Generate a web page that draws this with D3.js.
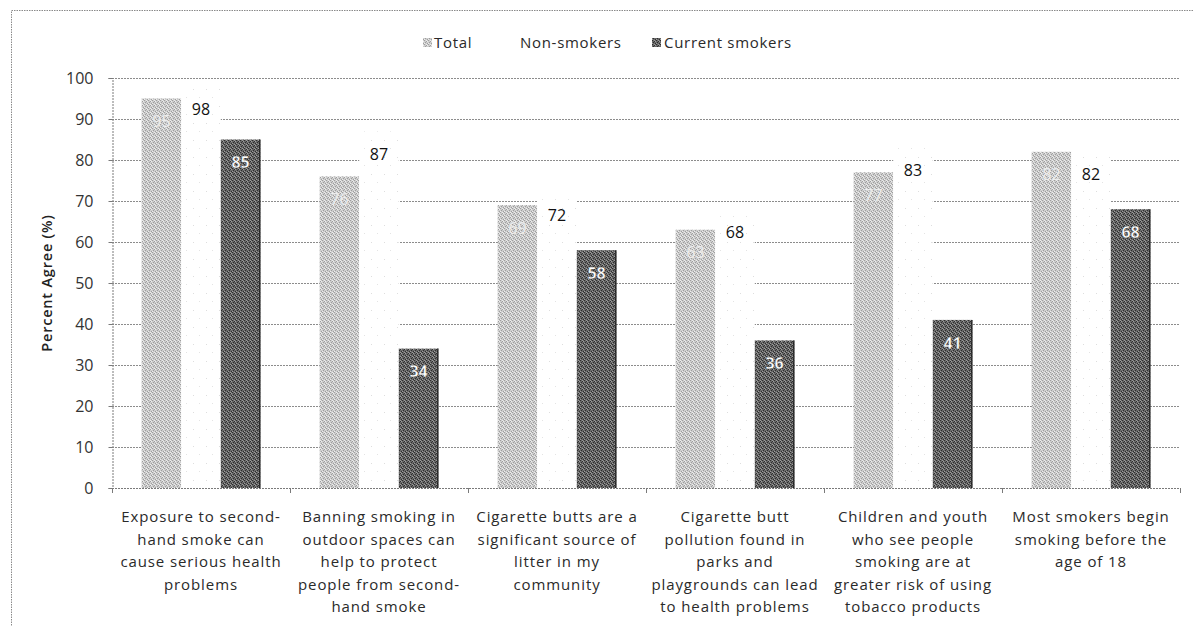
<!DOCTYPE html>
<html>
<head>
<meta charset="utf-8">
<script src="https://cdn.jsdelivr.net/npm/d3@7/dist/d3.min.js"></script>
<style>
  html, body { margin: 0; padding: 0; background: #fff; }
  svg { display: block; }
  text { font-family: "Open Sans", Lato, sans-serif; }
</style>
</head>
<body>
<svg id="chart" width="1193" height="626"></svg>
<script>
// Survey statements (line breaks mark the wrapped label lines)
const categories = [
  "Exposure to second-\nhand smoke  can\ncause serious health\nproblems",
  "Banning smoking in\noutdoor spaces can\nhelp to protect\npeople from second-\nhand smoke",
  "Cigarette butts are a\nsignificant source of\nlitter in my\ncommunity",
  "Cigarette butt\npollution found in\nparks and\nplaygrounds can lead\nto health problems",
  "Children and youth\nwho see people\nsmoking are at\ngreater risk of using\ntobacco products",
  "Most smokers begin\nsmoking before the\nage of 18"
];
const seriesNames = ["Total", "Non-smokers", "Current smokers"];
const totalValues = [95, 76, 69, 63, 77, 82];
const nonSmokerValues = [98, 87, 72, 68, 83, 82];
const currentSmokerValues = [85, 34, 58, 36, 41, 68];
const yTicks = [0, 10, 20, 30, 40, 50, 60, 70, 80, 90, 100];
const yTitle = "Percent Agree (%)";

const svg = d3.select("#chart");
const margin = { left: 112, right: 1180, top: 78, bottom: 488 };
const FONT = "'Open Sans', Lato, sans-serif";

// Fill textures
const defs = svg.append("defs");
function texture(id, base, dark, light) {
  const p = defs.append("pattern").attr("id", id)
    .attr("patternUnits", "userSpaceOnUse").attr("width", 4).attr("height", 4);
  p.append("rect").attr("width", 4).attr("height", 4).attr("fill", base);
  [[0,0],[2,1],[1,2],[3,3]].forEach(([x,y]) =>
    p.append("rect").attr("x", x).attr("y", y).attr("width", 1).attr("height", 1).attr("fill", dark));
  [[2,0],[0,3],[3,1]].forEach(([x,y]) =>
    p.append("rect").attr("x", x).attr("y", y).attr("width", 1).attr("height", 1).attr("fill", light));
}
texture("texTotal", "#cdcdcd", "#9e9e9e", "#ececec");
texture("texCurrent", "#686868", "#2e2e2e", "#9c9c9c");
(function () {
  const p = defs.append("pattern").attr("id", "texNon")
    .attr("patternUnits", "userSpaceOnUse").attr("width", 13).attr("height", 17);
  p.append("rect").attr("width", 13).attr("height", 17).attr("fill", "#ffffff");
  p.append("rect").attr("x", 3).attr("y", 4).attr("width", 1).attr("height", 1).attr("fill", "#dedede");
  p.append("rect").attr("x", 9).attr("y", 12).attr("width", 1).attr("height", 1).attr("fill", "#e4e4e4");
})();

const fills = ["url(#texTotal)", "url(#texNon)", "url(#texCurrent)"];
const seriesValues = [totalValues, nonSmokerValues, currentSmokerValues];

// Outer chart border
svg.append("rect")
  .attr("x", 11.5).attr("y", 10.5).attr("width", 1250).attr("height", 700)
  .attr("fill", "none").attr("stroke", "#8a8a8a").attr("stroke-dasharray", "1.5,1");

const x0 = d3.scaleBand().domain(d3.range(categories.length))
  .range([margin.left, margin.right]).paddingInner(0).paddingOuter(0);
const bw = x0.bandwidth() / 4.5;
const x1 = d3.scaleBand().domain(d3.range(3))
  .range([0.75 * bw, 3.75 * bw]).padding(0);
const y = d3.scaleLinear().domain([0, 100]).range([margin.bottom, margin.top]);

// Gridlines
svg.append("g")
  .selectAll("line").data(yTicks.filter(d => d > 0)).join("line")
  .attr("x1", margin.left).attr("x2", margin.right)
  .attr("y1", d => Math.round(y(d)) + 0.5).attr("y2", d => Math.round(y(d)) + 0.5)
  .attr("stroke", "#8c8c8c").attr("stroke-dasharray", "2,1").attr("stroke-width", 1);

// Y axis
const yAxis = svg.append("g")
  .attr("transform", `translate(${margin.left + 0.5},0)`)
  .call(d3.axisLeft(y).tickValues(yTicks).tickSize(4).tickPadding(15));
yAxis.select(".domain").attr("stroke", "#7a7a7a").attr("stroke-dasharray", "2,1");
yAxis.selectAll(".tick line").attr("stroke", "#7a7a7a");
yAxis.selectAll(".tick text")
  .attr("font-family", FONT)
  .attr("font-size", 16).attr("fill", "#333");

// Bars
const groups = svg.append("g").selectAll("g").data(categories).join("g")
  .attr("transform", (d, i) => `translate(${x0(i)},0)`);

seriesValues.forEach((vals, s) => {
  groups.append("rect")
    .attr("x", x1(s)).attr("width", x1.bandwidth())
    .attr("y", (d, i) => y(vals[i]))
    .attr("height", (d, i) => y(0) - y(vals[i]))
    .attr("fill", fills[s]);
});
// dark right edge on current smoker bars
groups.append("line")
  .attr("x1", x1(2) + x1.bandwidth() - 0.5).attr("x2", x1(2) + x1.bandwidth() - 0.5)
  .attr("y1", (d, i) => y(currentSmokerValues[i])).attr("y2", y(0))
  .attr("stroke", "#1a1a1a").attr("stroke-width", 1.2);

// X axis
const xAxis = svg.append("g");
xAxis.append("line")
  .attr("x1", margin.left).attr("x2", margin.right)
  .attr("y1", margin.bottom + 0.5).attr("y2", margin.bottom + 0.5)
  .attr("stroke", "#7a7a7a").attr("stroke-dasharray", "2,1");
xAxis.selectAll("line.tick").data(d3.range(categories.length + 1)).join("line")
  .attr("class", "tick")
  .attr("x1", i => Math.round(margin.left + i * x0.step()) + 0.5)
  .attr("x2", i => Math.round(margin.left + i * x0.step()) + 0.5)
  .attr("y1", margin.bottom).attr("y2", margin.bottom + 5)
  .attr("stroke", "#7a7a7a");

// Category labels
groups.append("text")
  .attr("text-anchor", "middle")
  .attr("font-size", 15).attr("letter-spacing", 0.9).attr("fill", "#2a2a2a")
  .each(function (d) {
    const t = d3.select(this);
    d.split("\n").forEach((line, k) => {
      t.append("tspan").attr("x", x0.bandwidth() / 2)
        .attr("y", 522 + k * 22.5).text(line);
    });
  });

// Value labels
const labelStyles = [
  { fill: "#ececec", weight: "normal" },
  { fill: "#111", weight: "normal" },
  { fill: "#ffffff", weight: "bold" }
];
seriesValues.forEach((vals, s) => {
  groups.append("text")
    .attr("x", x1(s) + x1.bandwidth() / 2)
    .attr("y", (d, i) => y(vals[i]) + 23)
    .attr("dy", "0.35em")
    .attr("text-anchor", "middle")
    .attr("font-size", 16)
    .attr("font-weight", labelStyles[s].weight)
    .attr("fill", labelStyles[s].fill)
    .attr("stroke", s === 2 ? "#444" : "none").attr("stroke-width", s === 2 ? 0.4 : 0)
    .text((d, i) => vals[i]);
});

// Y axis title
svg.append("text")
  .attr("transform", `translate(52,283) rotate(-90)`)
  .attr("text-anchor", "middle")
  .attr("font-size", 14.5).attr("font-weight", 600).attr("letter-spacing", 0.8).attr("fill", "#222")
  .text(yTitle);

// Legend
const legendItems = [
  { name: seriesNames[0], fill: fills[0], sx: 423, tx: 434 },
  { name: seriesNames[1], fill: "#ffffff", sx: 509, tx: 520 },
  { name: seriesNames[2], fill: fills[2], sx: 652, tx: 664 }
];
const legend = svg.append("g");
legendItems.forEach(it => {
  legend.append("rect").attr("x", it.sx).attr("y", 38).attr("width", 9).attr("height", 9)
    .attr("fill", it.fill);
  legend.append("text").attr("x", it.tx).attr("y", 43).attr("dy", "0.35em")
    .attr("font-size", 15).attr("letter-spacing", 0.7).attr("fill", "#2a2a2a").text(it.name);
});
</script>
</body>
</html>
